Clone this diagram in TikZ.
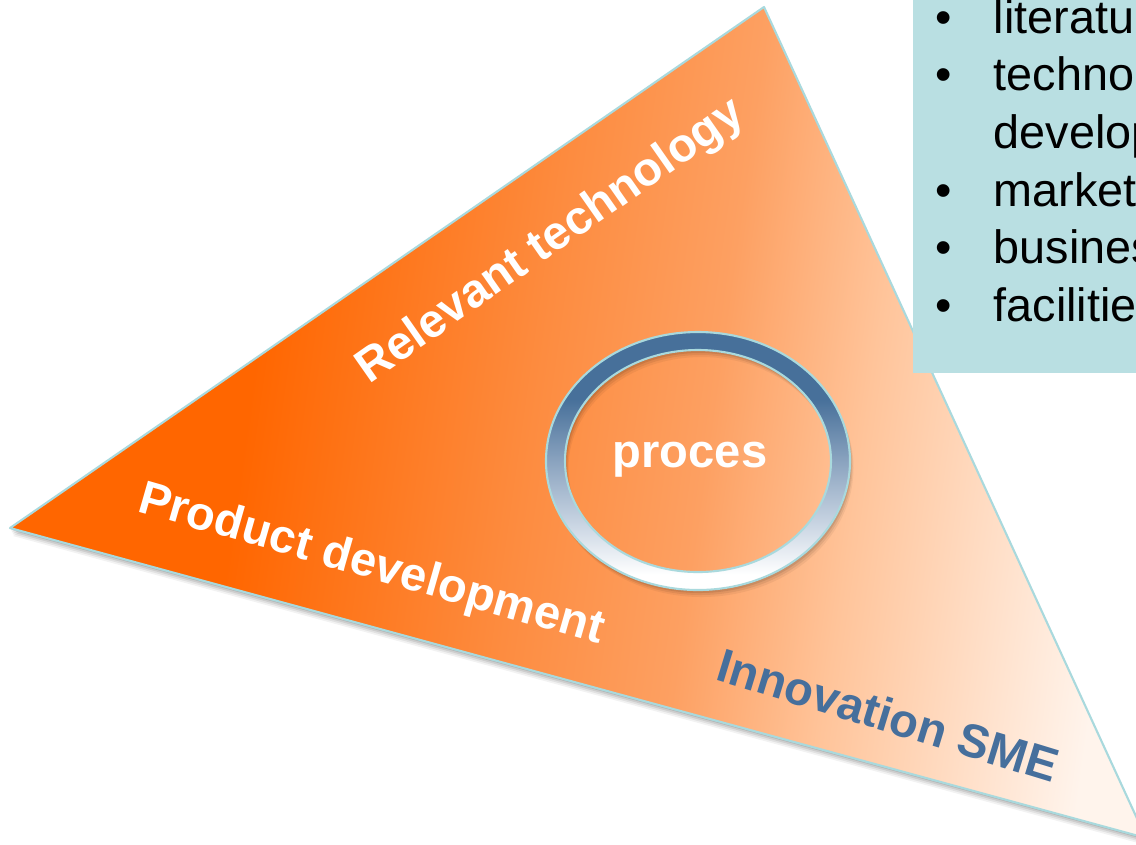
\documentclass[tikz,border=0pt]{standalone}
\usepackage{fontspec}
\setmainfont{Liberation Sans}

\definecolor{triorange}{HTML}{FF6600}
\definecolor{trimid}{HTML}{FD8C40}
\definecolor{tripeach}{HTML}{FDA062}
\definecolor{trilight}{HTML}{FFC49A}
\definecolor{tripale}{HTML}{FFF4EC}
\definecolor{edgeteal}{HTML}{A9D9DD}
\definecolor{boxteal}{HTML}{B9DFE2}
\definecolor{ringblue}{HTML}{47709A}
\definecolor{ringmid}{HTML}{8AA3BF}
\definecolor{ringlight}{HTML}{C8D4E2}
\definecolor{smeblue}{HTML}{466F9C}

% orange to pale, left to right
\pgfdeclarehorizontalshading{triangleshade}{100bp}{%
	color(0bp)=(triorange); color(35bp)=(triorange);
	color(48bp)=(trimid); color(56bp)=(tripeach);
	color(63bp)=(trilight); color(75bp)=(tripale); color(100bp)=(tripale)}

% blue on top, white at the bottom
\pgfdeclareverticalshading{ringshade}{100bp}{%
	color(0bp)=(white); color(28bp)=(white);
	color(38bp)=(ringlight); color(50bp)=(ringmid);
	color(62bp)=(ringblue); color(100bp)=(ringblue)}

\tikzset{
	label text/.style = {font = \fontsize{13.4}{16}\selectfont\bfseries, text = white, inner sep = 0pt},
	teal edge/.style = {draw = edgeteal, line width = 0.6pt, line join = round},
}

\begin{document}
\begin{tikzpicture}[x = 0.01cm, y = -0.01cm]

\useasboundingbox (0,0) rectangle (1136,844);
\clip (0,0) rectangle (1136,844);

\coordinate (TL) at (10, 528);
\coordinate (TT) at (764, 7);
\coordinate (TR) at (1146, 838);

% soft shadow under the triangle
\foreach \d/\o in {8/0.05, 6/0.07, 4/0.09, 2/0.12}
	\fill[black, opacity = \o]
		([shift = {(\d*0.4, \d)}]TL) -- ([shift = {(\d*0.4, \d)}]TT) -- ([shift = {(\d*0.4, \d)}]TR) -- cycle;

\shade[shading = triangleshade, shading angle = -8] (TL) -- (TT) -- (TR) -- cycle;
\draw[teal edge] (TL) -- (TT) -- (TR) -- cycle;

% list box
\fill[boxteal] (913, -10) rectangle (1200, 373);
\node[anchor = base west, inner sep = 0pt, font = \fontsize{13.3}{16.4}\selectfont] (topics) at (935, 33) {%
	\begin{tabular}[t]{@{}l@{}l@{}}
		\makebox[16.5pt][l]{\textbullet} & literature \\
		\makebox[16.5pt][l]{\textbullet} & technology \\
		                                  & development \\
		\makebox[16.5pt][l]{\textbullet} & market \\
		\makebox[16.5pt][l]{\textbullet} & business \\
		\makebox[16.5pt][l]{\textbullet} & facilities
	\end{tabular}};

% ring round the process
\coordinate (RC) at (698, 461);

\foreach \d/\o in {7/0.05, 5/0.07, 3/0.09, 1/0.1}
	\fill[black, opacity = \o, even odd rule]
		([shift = {(\d*0.5, \d)}]RC) ellipse [x radius = 152, y radius = 129]
		([shift = {(\d*0.5, \d)}]RC) ellipse [x radius = 133, y radius = 111];

\shade[shading = ringshade, even odd rule]
	(RC) ellipse [x radius = 152, y radius = 129]
	(RC) ellipse [x radius = 133, y radius = 111];
\draw[teal edge] (RC) ellipse [x radius = 152, y radius = 129];
\draw[teal edge] (RC) ellipse [x radius = 133, y radius = 111];

\node[label text] (proces) at (690, 460) {proces};

\node[label text, rotate = 35] (reltech) at (551, 242) {Relevant technology};
\node[label text, rotate = -16] (proddev) at (371, 566) {Product development};
\node[label text, text = smeblue, rotate = -17] (sme) at (888, 715) {Innovation SME};

\end{tikzpicture}
\end{document}
